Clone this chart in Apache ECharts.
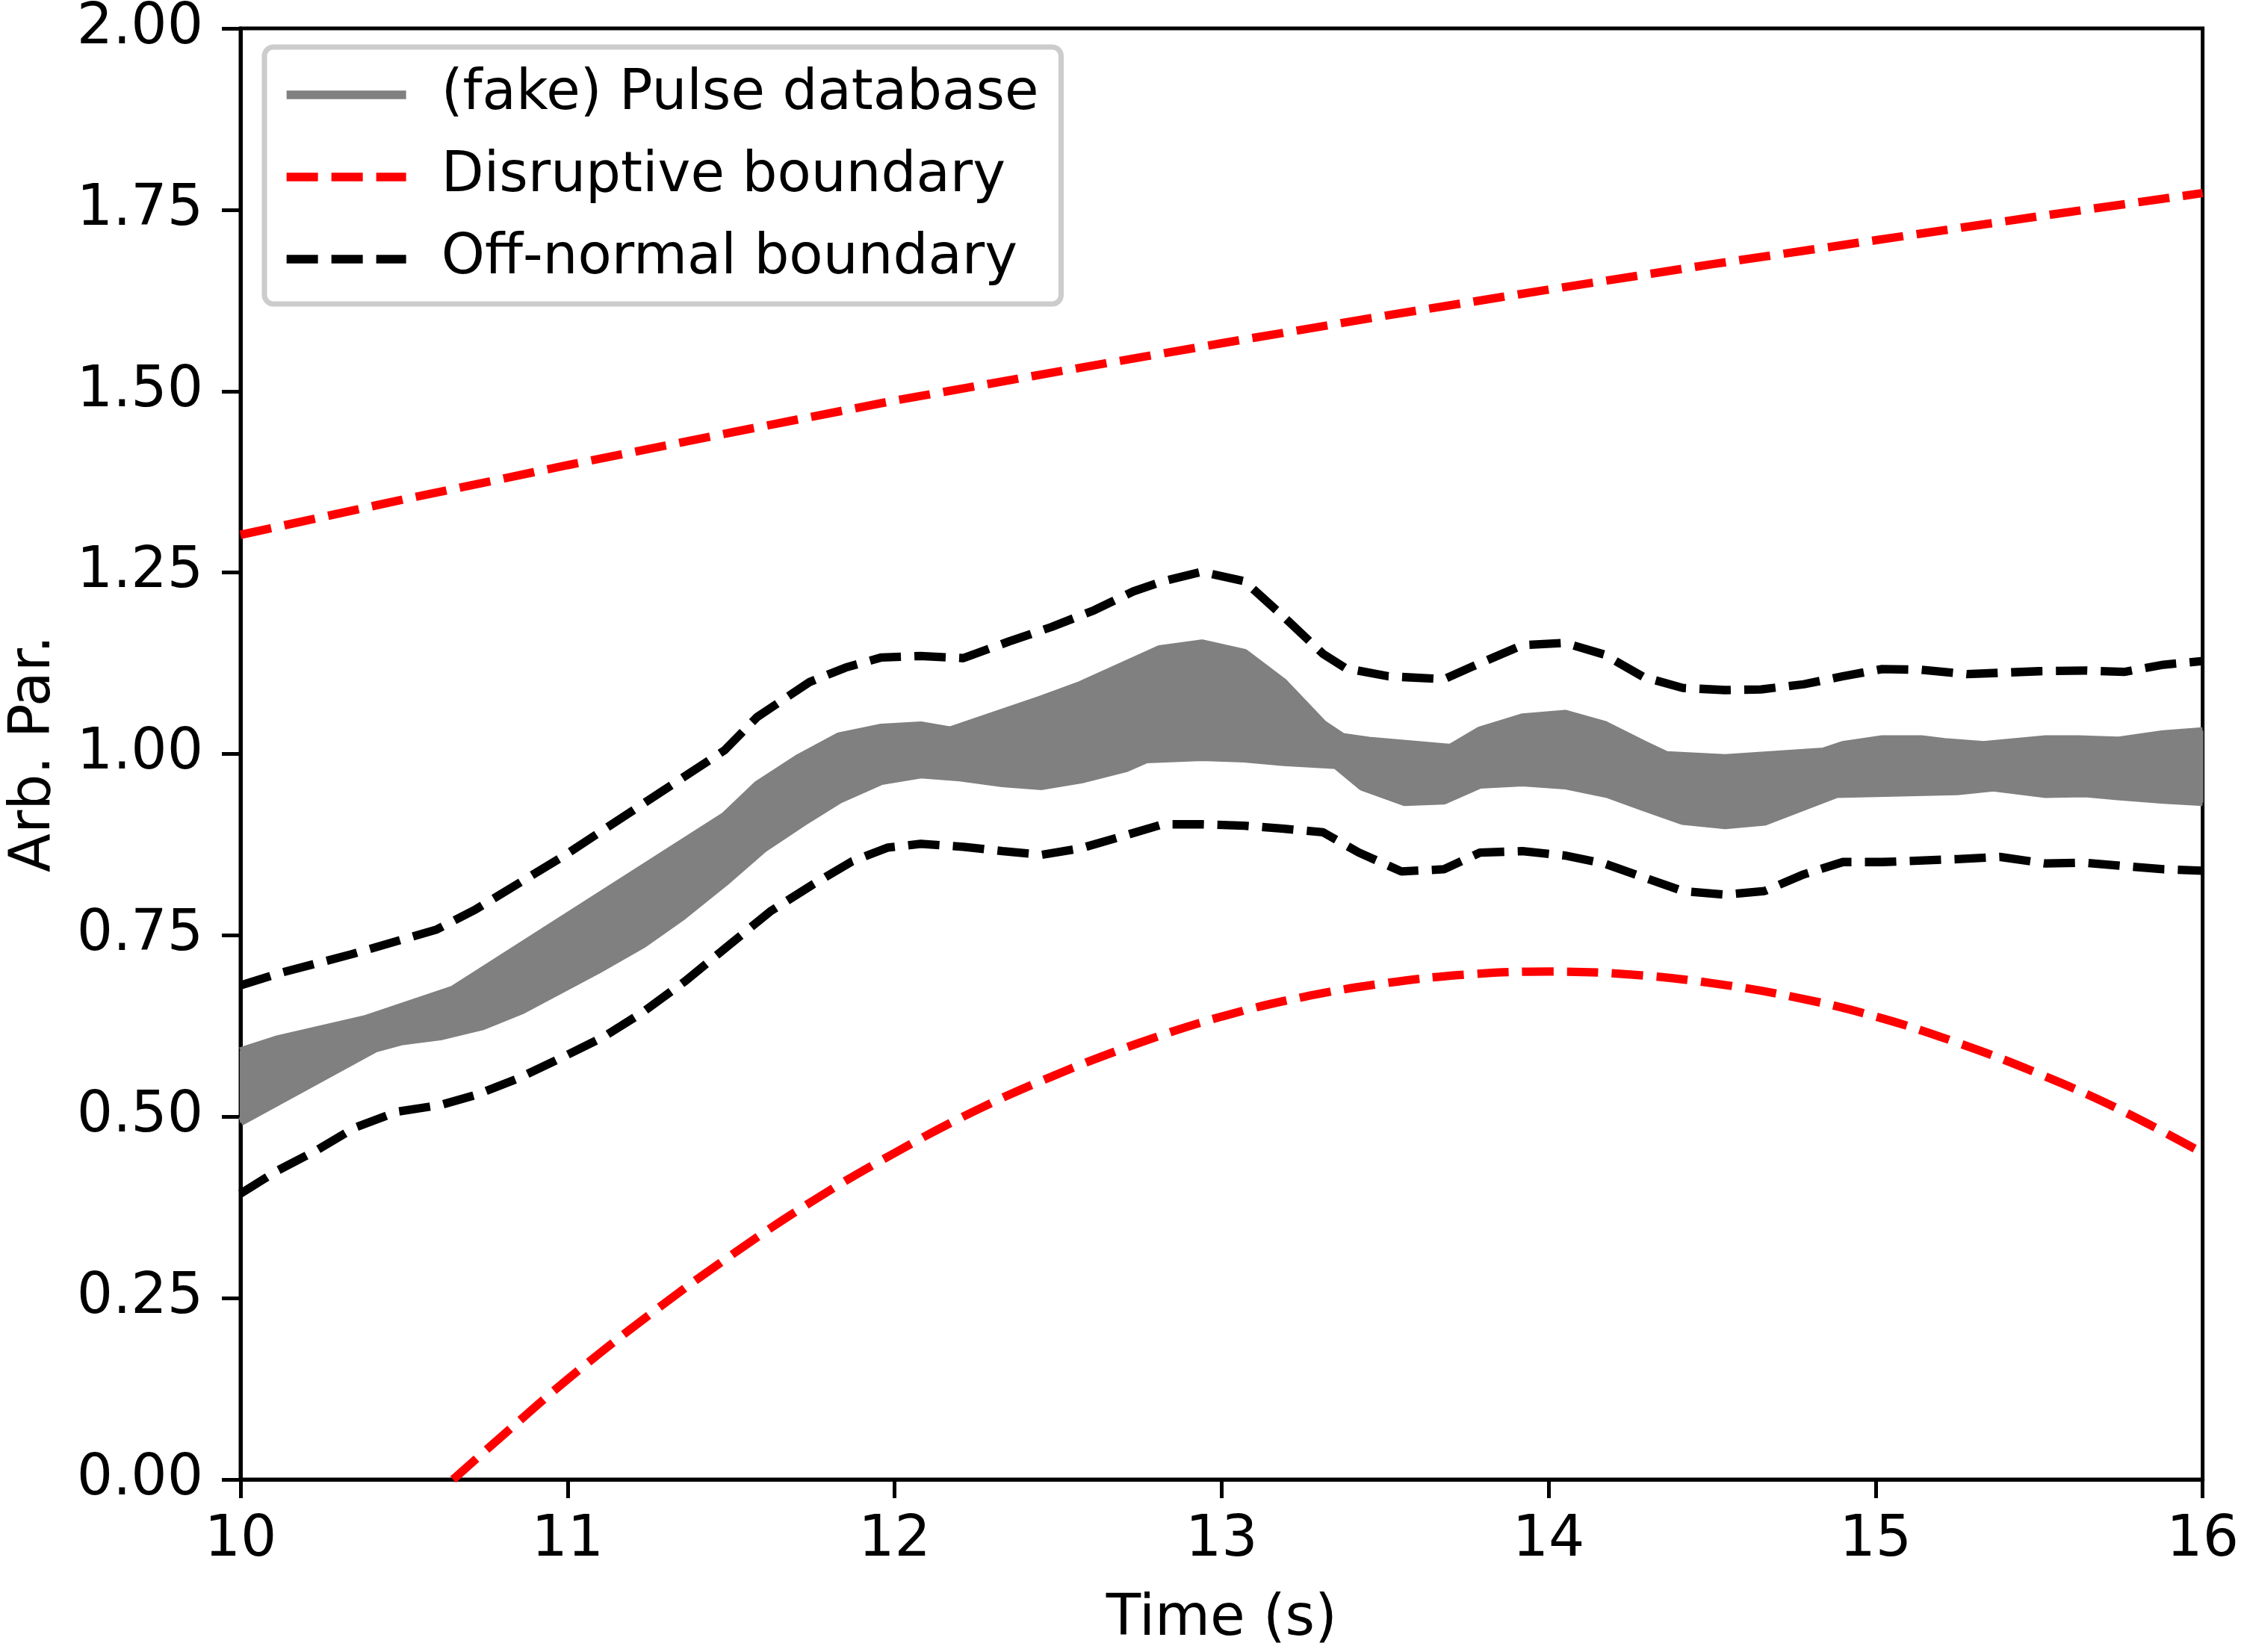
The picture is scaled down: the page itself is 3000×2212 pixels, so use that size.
<!DOCTYPE html>
<html>
<head>
<meta charset="utf-8">
<script src="https://cdn.jsdelivr.net/npm/echarts@6/dist/echarts.min.js"></script>
<style>
  html, body { margin: 0; padding: 0; background: #fff; }
  #chart { width: 3000px; height: 2212px; }
</style>
</head>
<body>
<div id="chart"></div>
<script>
// tick labels
var xTicks = [10, 11, 12, 13, 14, 15, 16];
var yTicks = [0, 0.25, 0.5, 0.75, 1.0, 1.25, 1.5, 1.75, 2.0];

// edges of the grey pulse bundle [time, value]
var pulseTop = [
  [10.0, 0.590], [10.11, 0.606], [10.38, 0.634], [10.65, 0.675], [11.48, 0.914],
  [11.58, 0.957], [11.71, 0.995], [11.83, 1.024], [11.96, 1.036], [12.08, 1.039],
  [12.17, 1.032], [12.45, 1.075], [12.57, 1.095], [12.81, 1.144], [12.94, 1.152],
  [13.07, 1.139], [13.19, 1.098], [13.31, 1.041], [13.37, 1.023], [13.45, 1.018],
  [13.70, 1.008], [13.79, 1.032], [13.92, 1.050], [14.05, 1.055], [14.17, 1.040],
  [14.29, 1.013], [14.36, 0.998], [14.54, 0.994], [14.84, 1.003], [14.90, 1.012],
  [15.02, 1.020], [15.14, 1.020], [15.21, 1.016], [15.33, 1.012], [15.52, 1.020],
  [15.62, 1.020], [15.74, 1.018], [15.88, 1.027], [16.0, 1.031]
];
var pulseBottom = [
  [10.0, 0.493], [10.41, 0.594], [10.49, 0.604], [10.61, 0.611], [10.74, 0.625],
  [10.86, 0.647], [11.09, 0.702], [11.23, 0.738], [11.35, 0.776], [11.48, 0.823],
  [11.60, 0.870], [11.72, 0.906], [11.83, 0.937], [11.96, 0.963], [12.08, 0.972],
  [12.20, 0.968], [12.33, 0.960], [12.45, 0.956], [12.57, 0.965], [12.71, 0.981],
  [12.77, 0.993], [12.94, 0.996], [13.07, 0.994], [13.19, 0.989], [13.35, 0.985],
  [13.43, 0.955], [13.56, 0.934], [13.68, 0.936], [13.79, 0.958], [13.92, 0.961],
  [14.05, 0.957], [14.18, 0.945], [14.29, 0.927], [14.41, 0.908], [14.54, 0.902],
  [14.66, 0.907], [14.77, 0.926], [14.88, 0.945], [15.25, 0.949], [15.36, 0.954],
  [15.52, 0.945], [15.64, 0.946], [15.74, 0.942], [15.88, 0.937], [16.0, 0.934]
];

// off-normal boundary (black dashed)
var offUpper = [
  [10.0, 0.681], [10.12, 0.698], [10.34, 0.724], [10.6, 0.758], [10.72, 0.786],
  [10.98, 0.857], [11.23, 0.931], [11.48, 1.005], [11.58, 1.051], [11.74, 1.099],
  [11.85, 1.119], [11.96, 1.133], [12.08, 1.135], [12.21, 1.132], [12.35, 1.155],
  [12.48, 1.175], [12.61, 1.198], [12.73, 1.224], [12.82, 1.238], [12.94, 1.251],
  [13.07, 1.238], [13.19, 1.189], [13.31, 1.138], [13.38, 1.118], [13.51, 1.107],
  [13.68, 1.103], [13.77, 1.121], [13.92, 1.150], [14.05, 1.153], [14.17, 1.137],
  [14.29, 1.106], [14.41, 1.091], [14.54, 1.088], [14.65, 1.089], [14.78, 1.096],
  [14.90, 1.107], [15.02, 1.117], [15.14, 1.116], [15.28, 1.110], [15.50, 1.114],
  [15.64, 1.115], [15.76, 1.113], [15.88, 1.123], [16.0, 1.128]
];
var offLower = [
  [10.0, 0.394], [10.11, 0.425], [10.23, 0.453], [10.35, 0.485], [10.48, 0.507],
  [10.61, 0.516], [10.72, 0.530], [10.85, 0.553], [10.98, 0.581], [11.11, 0.610],
  [11.23, 0.644], [11.36, 0.687], [11.49, 0.735], [11.62, 0.783], [11.75, 0.820],
  [11.87, 0.852], [11.98, 0.871], [12.08, 0.876], [12.21, 0.872], [12.33, 0.866],
  [12.45, 0.861], [12.57, 0.870], [12.70, 0.887], [12.82, 0.903], [12.94, 0.903],
  [13.07, 0.901], [13.19, 0.897], [13.31, 0.892], [13.42, 0.864], [13.55, 0.838],
  [13.68, 0.841], [13.79, 0.864], [13.92, 0.866], [14.05, 0.860], [14.17, 0.849],
  [14.29, 0.830], [14.41, 0.811], [14.54, 0.806], [14.66, 0.811], [14.78, 0.834],
  [14.90, 0.851], [15.02, 0.851], [15.25, 0.855], [15.38, 0.858], [15.52, 0.849],
  [15.64, 0.850], [15.77, 0.845], [15.88, 0.841], [16.0, 0.839]
];

// disruptive boundary (red dashed)
var disruptUpper = [
  [10, 1.302], [10.5, 1.351], [11, 1.398], [11.5, 1.443], [12, 1.487], [12.5, 1.527],
  [13, 1.566], [13.5, 1.604], [14, 1.640], [14.5, 1.675], [15, 1.708], [15.5, 1.741],
  [16, 1.773]
];
var disruptLower = [
  [10.65, 0.0], [10.8, 0.06], [11, 0.138], [11.25, 0.227], [11.5, 0.309], [11.75, 0.384],
  [12, 0.45], [12.25, 0.509], [12.5, 0.559], [12.75, 0.602], [13, 0.638], [13.25, 0.665],
  [13.5, 0.684], [13.75, 0.696], [14, 0.70], [14.25, 0.696], [14.5, 0.684], [14.75, 0.665],
  [15, 0.638], [15.25, 0.602], [15.5, 0.559], [15.75, 0.509], [16, 0.45]
];

var FONT = 'DejaVu Sans';
var LW = 11.3;
var DASH = [42, 18];

var chart = echarts.init(document.getElementById('chart'), null, { renderer: 'canvas' });

function dashedLine(name, data, color, smooth) {
  return {
    name: name,
    type: 'line',
    data: data,
    symbol: 'none',
    smooth: smooth || false,
    z: 4,
    itemStyle: { color: color },
    lineStyle: { color: color, width: LW, type: DASH, cap: 'butt' }
  };
}

var option = {
  animation: false,
  backgroundColor: '#fff',
  grid: {
    left: 316, right: 44, top: 27, bottom: 220,
    show: true, borderColor: '#000', borderWidth: 5, backgroundColor: 'transparent'
  },
  legend: {
    data: ['(fake) Pulse database', 'Disruptive boundary', 'Off-normal boundary'],
    orient: 'vertical',
    left: 354, top: 63,
    padding: [26, 30, 22, 24],
    itemGap: 34,
    itemWidth: 160,
    itemHeight: 30,
    backgroundColor: '#fff',
    borderColor: '#cccccc',
    borderWidth: 7,
    borderRadius: 12,
    selectedMode: false,
    itemStyle: { opacity: 0 },
    lineStyle: { width: LW },
    textStyle: {
      fontFamily: FONT, fontSize: 74, color: '#000', lineHeight: 76,
      padding: [0, 0, 0, 42]
    },
    z: 10
  },
  xAxis: {
    type: 'value',
    min: xTicks[0], max: xTicks[xTicks.length - 1], interval: 1,
    name: 'Time (s)', nameLocation: 'middle', nameGap: 150,
    nameTextStyle: { fontFamily: FONT, fontSize: 76, color: '#000' },
    axisLine: { onZero: false, lineStyle: { color: '#000', width: 5 } },
    axisTick: { length: 25, lineStyle: { color: '#000', width: 5 } },
    axisLabel: { fontFamily: FONT, fontSize: 76, color: '#000', margin: 44 },
    splitLine: { show: false }
  },
  yAxis: {
    type: 'value',
    min: yTicks[0], max: yTicks[yTicks.length - 1], interval: 0.25,
    name: 'Arb. Par.', nameLocation: 'middle', nameGap: 238,
    nameTextStyle: { fontFamily: FONT, fontSize: 76, color: '#000' },
    axisLine: { onZero: false, lineStyle: { color: '#000', width: 5 } },
    axisTick: { length: 25, lineStyle: { color: '#000', width: 5 } },
    axisLabel: {
      fontFamily: FONT, fontSize: 76, color: '#000', margin: 50,
      formatter: function (v) { return v.toFixed(2); }
    },
    splitLine: { show: false }
  },
  series: [
    // filled bundle between the pulse edges
    {
      name: 'bundle',
      type: 'custom',
      data: [[10, 0.5]],
      z: 2,
      renderItem: function (params, api) {
        var pts = pulseTop.map(function (p) { return api.coord(p); });
        var low = pulseBottom.slice().reverse().map(function (p) { return api.coord(p); });
        return {
          type: 'polygon',
          shape: { points: pts.concat(low) },
          style: { fill: '#808080', stroke: '#808080', lineWidth: 2 }
        };
      }
    },
    {
      name: '(fake) Pulse database', type: 'line', data: pulseTop, symbol: 'none', z: 3,
      itemStyle: { color: '#808080' },
      lineStyle: { color: '#808080', width: LW }
    },
    {
      name: '(fake) Pulse database', type: 'line', data: pulseBottom, symbol: 'none', z: 3,
      itemStyle: { color: '#808080' },
      lineStyle: { color: '#808080', width: LW }
    },
    dashedLine('Disruptive boundary', disruptUpper, '#ff0000'),
    dashedLine('Disruptive boundary', disruptLower, '#ff0000', 0.4),
    dashedLine('Off-normal boundary', offUpper, '#000000'),
    dashedLine('Off-normal boundary', offLower, '#000000')
  ]
};

chart.setOption(option);
</script>
</body>
</html>
